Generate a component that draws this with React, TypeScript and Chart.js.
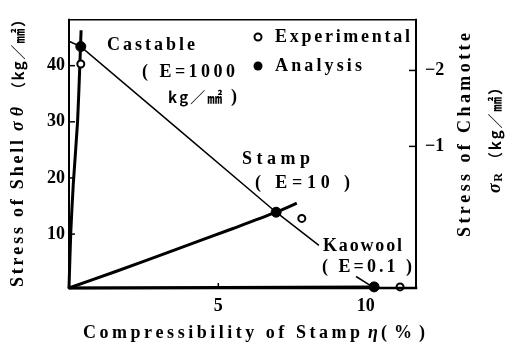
import React, { useEffect, useRef } from 'react';
import { Chart, registerables } from 'chart.js';

Chart.register(...registerables);

// ---- axis ticks ----
const xTicks = [5, 10];
const xTickMarks = [5];
const yTicks = [10, 20, 30, 40];
const y2Ticks = [-2, -1];

// ---- curves ----
const castableCurveX = [-0.06, 0.0, 0.085, 0.23, 0.31, 0.35];
const castableCurveY = [0.4, 10.3, 18.9, 30.0, 40.5, 46.3];
const stampCurveX = [-0.06, 1.5, 3.53, 5.5, 6.96, 7.66];
const stampCurveY = [0.4, 3.3, 7.2, 11.0, 13.9, 15.5];
const kaowoolCurveX = [-0.06, 10.28];
const kaowoolCurveY = [0.4, 0.6];
const chamotteLineX = [-0.04, 0.34, 3.53, 6.96, 8.41];
const chamotteLineY = [44.3, 43.4, 29.2, 13.9, 8.0];
const leaderX = [9.67, 10.2];
const leaderY = [2.45, 0.7];

// ---- points ----
const analysisX = [0.34, 6.96, 10.28];
const analysisY = [43.4, 13.9, 0.6];
const experimentalX = [0.34, 7.83, 11.16];
const experimentalY = [40.3, 12.8, 0.6];

const pts = (xs: number[], ys: number[]) => xs.map((x, i) => ({ x, y: ys[i] }));

const SERIF = '"Liberation Serif", "DejaVu Serif", serif';
const F = `bold 18px ${SERIF}`;
const FI = `italic bold 18px ${SERIF}`;
const FS = `bold 12px ${SERIF}`;
const FJ = `bold 15px "Noto Sans CJK JP", "Noto Sans CJK SC", sans-serif`;

type Part = { t: string; f: string; dy?: number };
type Run = { x: number; y: number; w: number; rot?: number; parts: Part[] };

const UP = -Math.PI / 2;

const textRuns: Run[] = [
  { x: 107, y: 45, w: 88, parts: [{ t: 'Castable', f: F }] },
  { x: 142, y: 72, w: 93, parts: [{ t: '( E=1000', f: F }] },
  { x: 168, y: 97, w: 69, parts: [{ t: 'kg', f: FJ }, { t: '／㎟', f: FJ }, { t: ' )', f: F }] },
  { x: 242, y: 159, w: 68, parts: [{ t: 'Stamp', f: F }] },
  { x: 255, y: 183, w: 95, parts: [{ t: '( E=10 )', f: F }] },
  { x: 323, y: 246, w: 79, parts: [{ t: 'Kaowool', f: F }] },
  { x: 322, y: 267, w: 90, parts: [{ t: '( E=0.1 )', f: F }] },
  { x: 275, y: 37, w: 135, parts: [{ t: 'Experimental', f: F }] },
  { x: 275, y: 66, w: 87, parts: [{ t: 'Analysis', f: F }] },
  // bottom title
  { x: 83, y: 333, w: 277, parts: [{ t: 'Compressibility of Stamp', f: F }] },
  { x: 368, y: 333, w: 9, parts: [{ t: 'η', f: FI }] },
  { x: 381, y: 333, w: 44, parts: [{ t: '(%)', f: F }] },
  // left title
  { x: 18, y: 287, w: 147, rot: UP, parts: [{ t: 'Stress of Shell', f: F }] },
  { x: 18, y: 131, w: 24, rot: UP, parts: [{ t: 'σθ', f: FI }] },
  { x: 18, y: 97, w: 85, rot: UP, parts: [{ t: '（kg／㎟）', f: FJ }] },
  // right titles
  { x: 465, y: 237, w: 204, rot: UP, parts: [{ t: 'Stress of Chamotte', f: F }] },
  { x: 495, y: 193, w: 20, rot: UP, parts: [{ t: 'σ', f: FI }, { t: 'R', f: FS, dy: 4 }] },
  { x: 495, y: 167, w: 87, rot: UP, parts: [{ t: '（kg／㎟）', f: FJ }] },
];

const legendMarks = [
  { x: 258, y: 37, filled: false },
  { x: 258, y: 66, filled: true },
];

function drawRun(ctx: CanvasRenderingContext2D, r: Run) {
  ctx.save();
  ctx.translate(r.x, r.y);
  if (r.rot) ctx.rotate(r.rot);
  ctx.textBaseline = 'middle';
  ctx.textAlign = 'left';
  ctx.fillStyle = '#000';
  const chars: { ch: string; f: string; dy: number; w: number }[] = [];
  for (const p of r.parts) {
    ctx.font = p.f;
    for (const ch of Array.from(p.t)) {
      chars.push({ ch, f: p.f, dy: p.dy || 0, w: ctx.measureText(ch).width });
    }
  }
  const total = chars.reduce((s, c) => s + c.w, 0);
  const gap = chars.length > 1 ? (r.w - total) / (chars.length - 1) : 0;
  let cx = 0;
  for (const c of chars) {
    ctx.font = c.f;
    ctx.fillText(c.ch, cx, c.dy);
    cx += c.w + gap;
  }
  ctx.restore();
}

const framePlugin = {
  id: 'frame',
  afterDraw(chart: any) {
    const { ctx, chartArea: a, scales } = chart;
    const line = (x1: number, y1: number, x2: number, y2: number, w: number) => {
      ctx.beginPath();
      ctx.lineWidth = w;
      ctx.moveTo(x1, y1);
      ctx.lineTo(x2, y2);
      ctx.stroke();
    };
    ctx.save();
    ctx.strokeStyle = '#000';
    ctx.lineCap = 'square';
    line(a.left, a.top, a.left, a.bottom, 2);
    line(a.left, a.top, a.right, a.top, 1.5);
    line(a.right, a.top, a.right, a.bottom, 2);
    line(a.left, a.bottom, a.right, a.bottom, 2.5);
    ctx.lineCap = 'butt';
    yTicks.forEach((v) => {
      const p = scales.y.getPixelForValue(v);
      line(a.left, p, a.left + 6, p, 1.5);
    });
    y2Ticks.forEach((v) => {
      const p = scales.y2.getPixelForValue(v);
      line(a.right - 7, p, a.right, p, 1.5);
    });
    xTickMarks.forEach((v) => {
      const p = scales.x.getPixelForValue(v);
      line(p, a.bottom, p, a.bottom - 5, 1.5);
    });
    legendMarks.forEach((m) => {
      ctx.beginPath();
      ctx.arc(m.x, m.y, m.filled ? 4.5 : 3.5, 0, Math.PI * 2);
      if (m.filled) {
        ctx.fillStyle = '#000';
        ctx.fill();
      } else {
        ctx.fillStyle = '#fff';
        ctx.fill();
        ctx.lineWidth = 2;
        ctx.stroke();
      }
    });
    textRuns.forEach((r) => drawRun(ctx, r));
    ctx.restore();
  },
};

const tickFont = { family: SERIF, size: 18, weight: 'bold' as const };

export default function App() {
  const ref = useRef<HTMLCanvasElement>(null);
  useEffect(() => {
    let chart: Chart | null = null;
    let cancelled = false;
    const lineDs = (xs: number[], ys: number[], w: number, tension = 0) => ({
      data: pts(xs, ys),
      showLine: true,
      borderColor: '#000',
      borderWidth: w,
      pointRadius: 0,
      tension,
      clip: false as const,
      yAxisID: 'y',
    });
    const build = () => {
      if (cancelled || !ref.current) return;
      chart = new Chart(ref.current, {
        type: 'scatter',
        data: {
          datasets: [
            {
              label: 'Analysis',
              data: pts(analysisX, analysisY),
              pointRadius: 5,
              pointBackgroundColor: '#000',
              pointBorderColor: '#000',
              pointBorderWidth: 1,
              showLine: false,
              clip: false as const,
              yAxisID: 'y',
            },
            {
              label: 'Experimental',
              data: pts(experimentalX, experimentalY),
              pointRadius: 3.5,
              pointBackgroundColor: '#fff',
              pointBorderColor: '#000',
              pointBorderWidth: 2,
              showLine: false,
              clip: false as const,
              yAxisID: 'y',
            },
            { label: 'Castable', ...lineDs(castableCurveX, castableCurveY, 3, 0.2) },
            { label: 'Stamp', ...lineDs(stampCurveX, stampCurveY, 3, 0.3) },
            { label: 'Kaowool', ...lineDs(kaowoolCurveX, kaowoolCurveY, 3) },
            { label: 'Chamotte', ...lineDs(chamotteLineX, chamotteLineY, 1.5) },
            { label: 'Leader', ...lineDs(leaderX, leaderY, 1.5) },
          ] as any,
        },
        options: {
          responsive: false,
          animation: false,
          devicePixelRatio: 1,
          layout: { padding: { top: 9, left: 0, right: 0, bottom: 0 } },
          plugins: { legend: { display: false }, tooltip: { enabled: false } },
          scales: {
            x: {
              type: 'linear',
              position: 'bottom',
              min: -0.06,
              max: 11.7,
              afterBuildTicks: (s: any) => {
                s.ticks = xTicks.map((v) => ({ value: v }));
              },
              afterFit: (s: any) => {
                s.height = 61;
              },
              grid: { display: false, drawTicks: false },
              border: { display: false },
              ticks: { font: tickFont, color: '#000', padding: 8, maxRotation: 0, autoSkip: false },
            },
            y: {
              type: 'linear',
              position: 'left',
              min: 0.4,
              max: 48.17,
              afterBuildTicks: (s: any) => {
                s.ticks = yTicks.map((v) => ({ value: v }));
              },
              afterFit: (s: any) => {
                s.width = 69;
              },
              grid: { display: false, drawTicks: false },
              border: { display: false },
              ticks: { font: tickFont, color: '#000', padding: 4, autoSkip: false },
            },
            y2: {
              type: 'linear',
              position: 'right',
              reverse: true,
              min: -2.667,
              max: 0.865,
              afterBuildTicks: (s: any) => {
                s.ticks = y2Ticks.map((v) => ({ value: v }));
              },
              afterFit: (s: any) => {
                s.width = 89;
              },
              grid: { display: false, drawTicks: false },
              border: { display: false },
              ticks: {
                font: tickFont,
                color: '#000',
                padding: 9,
                autoSkip: false,
                callback: (v: any) => (Number(v) < 0 ? '−' : '') + Math.abs(Number(v)),
              },
            },
          },
        } as any,
        plugins: [framePlugin],
      });
    };
    const fontsApi: any = (document as any).fonts;
    if (fontsApi && fontsApi.load) {
      Promise.all([
        fontsApi.load('bold 18px "Liberation Serif"'),
        fontsApi.load('italic bold 18px "Liberation Serif"'),
        fontsApi.load('bold 15px "Noto Sans CJK JP"'),
      ])
        .catch(() => null)
        .then(build);
    } else {
      build();
    }
    return () => {
      cancelled = true;
      if (chart) chart.destroy();
    };
  }, []);
  return (
    <div style={{ position: 'fixed', left: 0, top: 0, width: 505, height: 349, background: '#fff' }}>
      <canvas ref={ref} width={505} height={349} style={{ display: 'block' }} />
    </div>
  );
}
